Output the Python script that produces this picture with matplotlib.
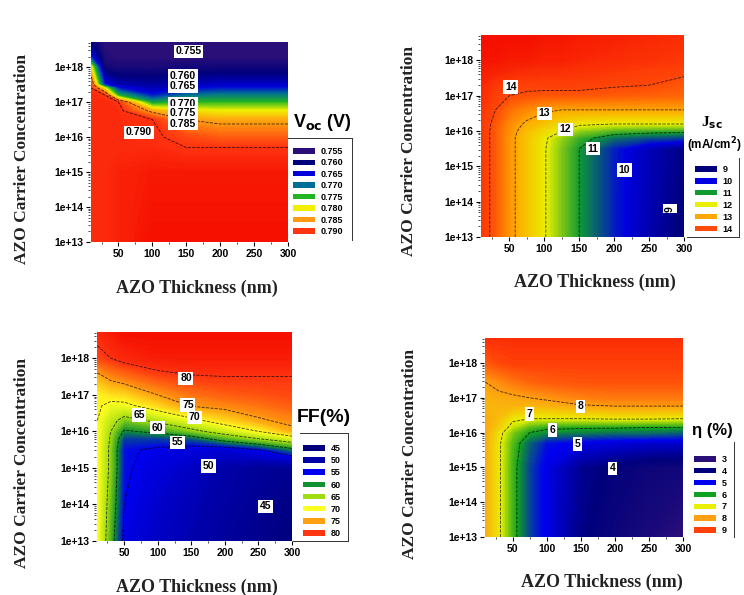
#!/usr/bin/env python3
"""
AZO thickness / carrier concentration contour maps for Voc, Jsc, FF and efficiency
"""

import numpy as np
import matplotlib
matplotlib.use('Agg')
import matplotlib.pyplot as plt
from matplotlib.colors import LinearSegmentedColormap
from matplotlib.patches import Patch

W, H = 744, 595

# log10 of the carrier concentration is used for the y grid
voc_x = [10, 30, 50, 100, 150, 200, 250, 300]
voc_y = [13, 15, 15.7, 16, 16.5, 16.75, 17, 17.2, 17.4, 17.5, 18, 18.3, 18.7]
voc_z = [
    [0.791, 0.791, 0.792, 0.794, 0.794, 0.794, 0.794, 0.794],
    [0.791, 0.791, 0.792, 0.793, 0.793, 0.793, 0.793, 0.793],
    [0.791, 0.791, 0.791, 0.791, 0.790, 0.790, 0.790, 0.790],
    [0.791, 0.791, 0.791, 0.7905, 0.789, 0.788, 0.788, 0.788],
    [0.791, 0.791, 0.791, 0.790, 0.785, 0.784, 0.784, 0.784],
    [0.791, 0.791, 0.791, 0.784, 0.781, 0.780, 0.780, 0.780],
    [0.791, 0.791, 0.790, 0.773, 0.775, 0.775, 0.775, 0.775],
    [0.791, 0.790, 0.774, 0.766, 0.770, 0.771, 0.771, 0.771],
    [0.790, 0.780, 0.766, 0.763, 0.765, 0.766, 0.766, 0.766],
    [0.789, 0.766, 0.763, 0.762, 0.763, 0.764, 0.764, 0.764],
    [0.780, 0.758, 0.757, 0.757, 0.758, 0.758, 0.758, 0.758],
    [0.766, 0.756, 0.755, 0.755, 0.755, 0.755, 0.755, 0.755],
    [0.760, 0.755, 0.754, 0.754, 0.754, 0.754, 0.754, 0.754],
]
voc_levels = [0.755, 0.760, 0.765, 0.770, 0.775, 0.780, 0.785, 0.790]
voc_labels = ['0.755', '0.760', '0.765', '0.770', '0.775', '0.780', '0.785', '0.790']
voc_lines = [0.785, 0.790]
voc_top = 0.794

jsc_x = [10, 30, 50, 75, 100, 125, 150, 200, 250, 300]
jsc_y = [13, 15.5, 15.8, 16, 16.2, 16.6, 17, 17.3, 17.7, 18, 18.7]
jsc_z = [
    [14.3, 13.8, 13.2, 12.6, 12.05, 11.5, 11.0, 10.2, 9.5, 8.9],
    [14.3, 13.8, 13.2, 12.6, 12.05, 11.5, 11.0, 10.2, 9.6, 9.1],
    [14.3, 13.8, 13.2, 12.6, 12.1, 11.6, 11.2, 10.7, 10.5, 10.4],
    [14.3, 13.8, 13.25, 12.7, 12.3, 12.0, 11.6, 11.3, 11.2, 11.15],
    [14.3, 13.85, 13.3, 12.9, 12.6, 12.3, 12.1, 12.0, 12.0, 12.0],
    [14.35, 14.0, 13.6, 13.3, 13.1, 13.0, 13.0, 13.0, 13.0, 13.0],
    [14.5, 14.2, 14.0, 13.9, 13.85, 13.85, 13.85, 13.8, 13.75, 13.7],
    [14.6, 14.3, 14.15, 14.15, 14.15, 14.15, 14.15, 14.05, 14.0, 13.85],
    [14.8, 14.7, 14.6, 14.5, 14.45, 14.45, 14.4, 14.3, 14.2, 14.1],
    [14.9, 14.9, 14.8, 14.8, 14.7, 14.7, 14.6, 14.5, 14.4, 14.3],
    [15.0, 15.0, 15.0, 15.0, 14.9, 14.9, 14.8, 14.7, 14.6, 14.5],
]
jsc_levels = [9, 10, 11, 12, 13, 14]
jsc_labels = ['9', '10', '11', '12', '13', '14']
jsc_lines = [11, 12, 13, 14]
jsc_top = 15

ff_x = [10, 30, 50, 100, 150, 200, 250, 300]
ff_y = [13, 14, 15, 15.5, 15.8, 16, 16.3, 16.7, 17, 17.5, 18, 18.7]
ff_z = [
    [70, 62, 54, 52, 50.5, 48.5, 47, 45],
    [70, 63, 55, 52.5, 51, 49.5, 47.5, 46],
    [70, 64, 55.5, 53.5, 52, 50, 48.5, 47.5],
    [70, 64, 55.5, 54.5, 53.5, 53, 55, 59],
    [70, 64.5, 57, 57, 58, 62, 65, 68],
    [70, 65, 59.5, 61, 63.8, 67, 70, 74],
    [70, 66.5, 63.5, 66, 69, 72, 74.5, 76],
    [70.5, 69, 69, 72, 75.2, 76, 77, 78],
    [70.5, 71.5, 72, 75, 77, 78, 78.5, 79],
    [74, 76, 77, 79, 79.8, 80, 80, 80],
    [79, 80, 81, 82, 82, 82, 82, 82],
    [81, 82, 83, 83, 83, 83, 83, 83],
]
ff_levels = [45, 50, 55, 60, 65, 70, 75, 80]
ff_labels = ['45', '50', '55', '60', '65', '70', '75', '80']
ff_lines = [55, 60, 65, 70, 75, 80]
ff_top = 83

eta_x = [10, 30, 50, 75, 100, 150, 200, 250, 300]
eta_y = [13, 15, 15.7, 16, 16.15, 16.4, 16.8, 17, 17.45, 18, 18.7]
eta_z = [
    [7.8, 7.1, 6.2, 5.4, 4.9, 4.1, 3.7, 3.4, 3.0],
    [7.8, 7.1, 6.2, 5.4, 4.9, 4.2, 3.9, 3.7, 3.6],
    [7.8, 7.1, 6.3, 5.6, 5.1, 4.9, 4.8, 4.7, 4.7],
    [7.9, 7.2, 6.5, 6.0, 5.85, 5.8, 5.7, 5.7, 5.6],
    [7.9, 7.4, 6.8, 6.3, 6.1, 6.05, 6.05, 6.0, 6.0],
    [7.9, 7.6, 7.1, 7.0, 7.0, 7.0, 7.05, 7.05, 7.0],
    [7.7, 7.75, 7.8, 7.75, 7.8, 8.0, 8.1, 8.1, 8.1],
    [7.8, 7.85, 7.9, 8.0, 8.1, 8.3, 8.4, 8.4, 8.4],
    [8.0, 8.2, 8.4, 8.6, 8.7, 8.8, 8.8, 8.8, 8.8],
    [8.7, 8.9, 9.0, 9.0, 9.0, 9.0, 9.0, 9.0, 9.0],
    [9.2, 9.2, 9.2, 9.2, 9.2, 9.2, 9.2, 9.2, 9.2],
]
eta_levels = [3, 4, 5, 6, 7, 8, 9]
eta_labels = ['3', '4', '5', '6', '7', '8', '9']
eta_lines = [6, 7, 8]
eta_top = 9.6

y_ticks = [13, 14, 15, 16, 17, 18]
y_tick_labels = ['1e+13', '1e+14', '1e+15', '1e+16', '1e+17', '1e+18']
x_ticks = [50, 100, 150, 200, 250, 300]

# Origin style rainbow, one colour per contour level
voc_colors = ['#2a0f78', '#00007c', '#0000d8', '#006e96', '#22b422', '#f0f000', '#ff9a10', '#ff3410']
jsc_colors = ['#00007c', '#0000e0', '#109a30', '#e8f000', '#ffa800', '#ff4a08']
ff_colors = ['#00007c', '#0000a8', '#0000f0', '#109030', '#a0dc10', '#ffff20', '#ffa010', '#ff3410']
eta_colors = ['#2a0f78', '#00007c', '#0000f0', '#10a020', '#e8f000', '#ffa010', '#ff4008']
top_color = '#f51000'


def make_cmap(levels, colors):
    """Rainbow colormap whose colours sit on the contour levels."""
    lo, hi = levels[0], levels[-1]
    stops = [(v - lo) / (hi - lo) for v in levels]
    return LinearSegmentedColormap.from_list('rainbow_levels', list(zip(stops, colors)), N=256)


def fx(px):
    return px / W


def fy(py):
    return 1 - py / H


def draw_panel(fig, box, x, y, z, levels, colors, labels, lines, top, spots, xlabel_at, ylabel_at,
               legend_at, legend_step, frame):
    left, upper, right, bottom = box
    ax = fig.add_axes([fx(left), fy(bottom), (right - left) / W, (bottom - upper) / H])

    # the fill runs on a little past the last level, into deeper red
    cmap = make_cmap(levels + [top], colors + [top_color])
    z = np.array(z, dtype=float)
    fill = np.linspace(levels[0], top, 140)
    ax.contourf(x, y, z, levels=fill, cmap=cmap, extend='both', antialiased=False)
    ax.contour(x, y, z, levels=lines, colors='black', linewidths=0.6,
               linestyles='dashed', alpha=0.75)

    for spot in spots:
        text, sx, sy = spot[:3]
        rot = spot[3] if len(spot) > 3 else 0
        ax.text(sx, sy, text, ha='center', va='center', fontsize=7.5, fontweight='bold',
                rotation=rot, family='Liberation Sans', color='black',
                bbox=dict(facecolor='white', edgecolor='none', pad=1.2))

    ax.set_xlim(8, 300)
    ax.set_ylim(13, 18.72)
    ax.set_xticks(x_ticks)
    ax.set_yticks(y_ticks)
    ax.set_yticklabels(y_tick_labels)
    minor = [d + np.log10(m) for d in range(13, 19) for m in range(2, 10)]
    ax.set_yticks([v for v in minor if v < 18.72], minor=True)
    ax.set_xticks([25, 75, 125, 175, 225, 275], minor=True)
    ax.tick_params(axis='both', which='major', length=3, width=0.8, labelsize=7.5, pad=2)
    ax.tick_params(axis='both', which='minor', length=1.5, width=0.5)
    for lab in ax.get_xticklabels() + ax.get_yticklabels():
        lab.set_fontweight('bold')
        lab.set_family('Liberation Sans')
    for side in ax.spines.values():
        side.set_visible(False)

    fig.text(fx(xlabel_at[0]), fy(xlabel_at[1]), 'AZO Thickness (nm)', ha='center', va='center',
             fontsize=13, fontweight='bold', family='Liberation Serif', color='#222222')
    fig.text(fx(ylabel_at[0]), fy(ylabel_at[1]), 'AZO Carrier Concentration', ha='center', va='center',
             rotation=90, fontsize=12.5, fontweight='bold', family='Liberation Serif', color='#222222')

    # legend sits in page coordinates next to the map
    fs = 6.5
    fs_px = fs * 100 / 72
    handles = [Patch(facecolor=c, edgecolor='none') for c in colors]
    leg = ax.legend(handles, labels, loc='upper left', bbox_to_anchor=(fx(legend_at[0]), fy(legend_at[1])),
                    bbox_transform=fig.transFigure, frameon=False, borderpad=0, borderaxespad=0,
                    handlelength=22 / fs_px, handleheight=5 / fs_px, handletextpad=0.6,
                    labelspacing=(legend_step - fs_px * 1.0) / fs_px,
                    prop=dict(family='Liberation Sans', weight='bold', size=fs))
    leg.set_in_layout(False)

    for (x0, y0, x1, y1) in frame:
        fig.add_artist(plt.Line2D([fx(x0), fx(x1)], [fy(y0), fy(y1)], color='#333333', linewidth=0.7))
    return ax


def main():
    plt.rcParams['font.family'] = ['Liberation Sans', 'DejaVu Sans']
    plt.rcParams['mathtext.default'] = 'bf'
    fig = plt.figure(figsize=(W / 100, H / 100), dpi=100, facecolor='white')

    draw_panel(fig, (90, 42, 288, 242), voc_x, voc_y, voc_z, voc_levels, voc_colors, voc_labels, voc_lines, voc_top,
               [('0.755', 153, 18.45), ('0.760', 145, 17.76), ('0.765', 145, 17.46), ('0.770', 145, 16.95),
                ('0.775', 145, 16.7), ('0.785', 145, 16.38), ('0.790', 80, 16.14)],
               (197, 288), (22, 159), (293, 147), 11.5,
               [(288, 138, 352, 138), (352, 138, 352, 240)])

    draw_panel(fig, (480, 35, 684, 237), jsc_x, jsc_y, jsc_z, jsc_levels, jsc_colors, jsc_labels, jsc_lines, jsc_top,
               [('14', 52, 17.25), ('13', 100, 16.5), ('12', 130, 16.05), ('11', 170, 15.5), ('10', 215, 14.9),
                ('9', 280, 13.8, 90)],
               (595, 282), (409, 151), (695, 165), 12,
               [(687, 237, 739, 237), (739, 158, 739, 237)])

    draw_panel(fig, (96, 332, 292, 541), ff_x, ff_y, ff_z, ff_levels, ff_colors, ff_labels, ff_lines, ff_top,
               [('80', 142, 17.45), ('75', 145, 16.72), ('70', 155, 16.38), ('65', 72, 16.45), ('60', 100, 16.1),
                ('55', 130, 15.7), ('50', 175, 15.05), ('45', 260, 13.95)],
               (197, 587), (22, 463), (303, 444), 12.2,
               [(293, 541, 348, 541), (348, 433, 348, 541), (300, 433, 348, 433)])

    draw_panel(fig, (484, 338, 683, 537), eta_x, eta_y, eta_z, eta_levels, eta_colors, eta_labels, eta_lines, eta_top,
               [('8', 150, 16.76), ('7', 75, 16.54), ('6', 108, 16.08), ('5', 145, 15.67), ('4', 197, 14.97)],
               (602, 582), (410, 454), (694, 455), 11.9,
               [(734, 442, 734, 537)])

    # quantity names beside each legend
    fig.text(fx(322), fy(123), r'V$_{\mathbf{oc}}$ (V)', ha='center', va='center', fontsize=13, fontweight='bold')
    fig.text(fx(712), fy(123), r'J$_{\mathbf{sc}}$', ha='center', va='center', fontsize=11, fontweight='bold',
             family='Liberation Serif')
    fig.text(fx(714), fy(145), r'(mA/cm$^{\mathbf{2}}$)', ha='center', va='center', fontsize=8.5, fontweight='bold')
    fig.text(fx(324), fy(417), 'FF(%)', ha='center', va='center', fontsize=14, fontweight='bold')
    fig.text(fx(712), fy(430), '\u03b7 (%)', ha='center', va='center', fontsize=12, fontweight='bold')

    fig.savefig('out.png', dpi=100, facecolor='white')


if __name__ == "__main__":
    main()
